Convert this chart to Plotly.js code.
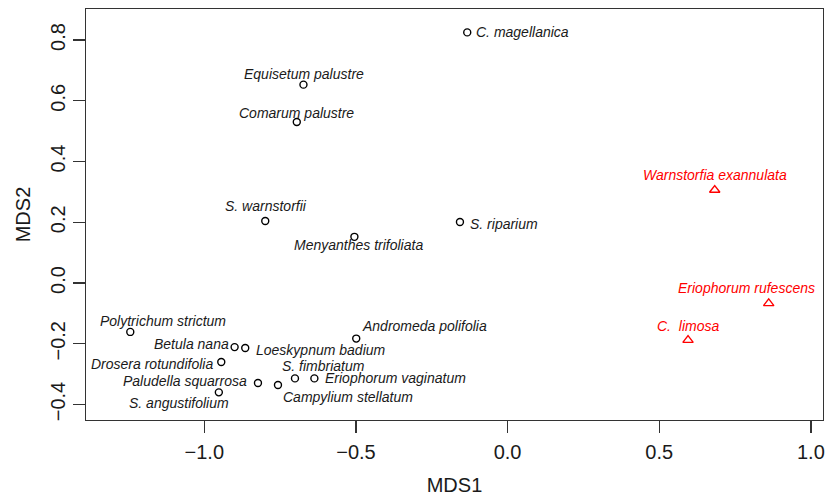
<!DOCTYPE html>
<html>
<head>
<meta charset="utf-8">
<script src="https://cdn.plot.ly/plotly-3.0.1.min.js"></script>
<style>html,body{margin:0;padding:0;background:#fff;}#chart{width:834px;height:496px;}</style>
</head>
<body>
<div id="chart"></div>
<script>
// Species names
const species = [
  "C. magellanica", "Equisetum palustre", "Comarum palustre", "S. warnstorfii",
  "Menyanthes trifoliata", "S. riparium", "Polytrichum strictum", "Betula nana",
  "Loeskypnum badium", "Drosera rotundifolia", "Andromeda polifolia", "S. fimbriatum",
  "Eriophorum vaginatum", "Paludella squarrosa", "S. angustifolium", "Campylium stellatum",
  "Warnstorfia exannulata", "Eriophorum rufescens", "C.  limosa"
];
// MDS coordinates
const mds1 = [-0.133, -0.673, -0.695, -0.799, -0.505, -0.157, -1.244, -0.900,
  -0.865, -0.944, -0.499, -0.701, -0.637, -0.823, -0.952, -0.757,
  0.683, 0.861, 0.595];
const mds2 = [0.825, 0.653, 0.530, 0.204, 0.152, 0.201, -0.161, -0.211,
  -0.214, -0.260, -0.183, -0.314, -0.314, -0.329, -0.360, -0.336,
  0.306, -0.067, -0.188];
// group: 0 = circle (black), 1 = triangle (red)
const group = [0,0,0,0,0,0,0,0,0,0,0,0,0,0,0,0,1,1,1];

// label placement (pixels): [xanchor, xshift, yshift]
const labelPlace = [
  ["left", 7, 0], ["center", 0.5, 10.7], ["center", 0, 9.3], ["center", 0.7, 15.3],
  ["center", 3.7, -8], ["left", 8, -2], ["center", 32.5, 11.3], ["right", -4, 3.3],
  ["left", 8.5, -2], ["right", -6, -1.7], ["left", 3.5, 12.7], ["center", 28.3, 12],
  ["left", 8.5, 0.5], ["right", -8.5, 2], ["center", -39.4, -11], ["center", 70.3, -12.3],
  ["center", 0.5, 15.3], ["center", -22.2, 15.6], ["center", 0, 14]
];

const colors = ["#000000", "#ff0000"];
const symbols = ["circle-open", "triangle-up-open"];
const sizes = [7, 9];

const traces = [0, 1].map(g => {
  const idx = group.map((v, i) => v === g ? i : -1).filter(i => i >= 0);
  return {
    type: "scatter", mode: "markers",
    x: idx.map(i => mds1[i]), y: idx.map(i => mds2[i]),
    marker: {symbol: symbols[g], size: sizes[g], color: colors[g], line: {width: 1.4, color: colors[g]}},
    hoverinfo: "skip", showlegend: false
  };
});

const annotations = species.map((s, i) => ({
  x: mds1[i], y: mds2[i], xref: "x", yref: "y", text: s, showarrow: false,
  xanchor: labelPlace[i][0], yanchor: "middle",
  xshift: labelPlace[i][1], yshift: labelPlace[i][2],
  font: {family: "Liberation Sans, Arial, sans-serif", size: 14, style: "italic",
         color: group[i] === 1 ? "#ff0000" : "#1a1a1a"}
}));

const axisCommon = {
  showgrid: false, zeroline: false, showline: true, mirror: true,
  linecolor: "#333333", linewidth: 1.4,
  ticks: "outside", ticklen: 12, tickwidth: 1.4, tickcolor: "#333333",
  tickfont: {family: "Liberation Sans, Arial, sans-serif", size: 20, color: "#1a1a1a"},
  tickformat: ".1f"
};

const layout = {
  width: 834, height: 496,
  margin: {l: 86, r: 11, t: 9, b: 76},
  paper_bgcolor: "#ffffff", plot_bgcolor: "#ffffff",
  xaxis: Object.assign({}, axisCommon, {
    range: [-1.39, 1.04], tick0: 0, dtick: 0.5, ticklabelstandoff: 2,
    title: {text: "MDS1", font: {family: "Liberation Sans, Arial, sans-serif", size: 20, color: "#1a1a1a"}, standoff: 17}
  }),
  yaxis: Object.assign({}, axisCommon, {
    range: [-0.451, 0.902], tick0: 0, dtick: 0.2, tickangle: -90,
    title: {text: "MDS2", font: {family: "Liberation Sans, Arial, sans-serif", size: 20, color: "#1a1a1a"}, standoff: 10}
  }),
  annotations: annotations
};

Plotly.newPlot("chart", traces, layout, {displayModeBar: false, staticPlot: true});
</script>
</body>
</html>
